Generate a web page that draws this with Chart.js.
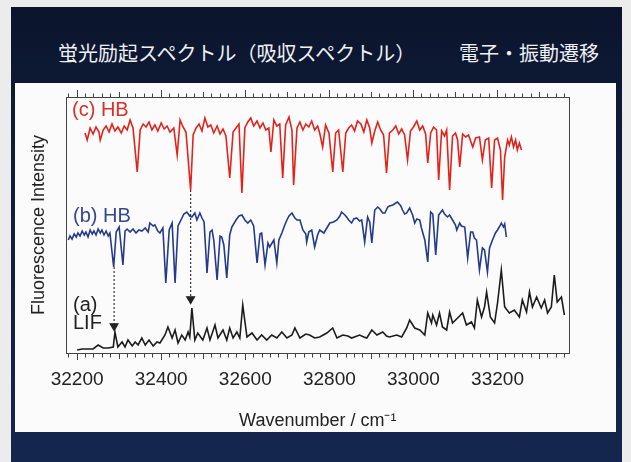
<!DOCTYPE html>
<html>
<head>
<meta charset="utf-8">
<title>蛍光励起スペクトル</title>
<script src="https://cdn.jsdelivr.net/npm/chart.js@4.4.1/dist/chart.umd.min.js"></script>
<style>
body{margin:0;width:631px;height:462px;overflow:hidden;position:relative;background:#ececec;font-family:"Liberation Sans",Arial,sans-serif}
#slide{position:absolute;left:11px;top:7px;width:611px;height:455px;background:linear-gradient(#0b142c,#0e1a36 20%,#15264e)}
#panel{position:absolute;left:15px;top:83px;width:601px;height:349px;background:#fbfbfb}
.ttl{position:absolute;top:39px;color:#eef0f4;font-size:20px;line-height:28px;font-family:"Noto Sans CJK JP",sans-serif;white-space:nowrap}
canvas{position:absolute;left:0;top:0}
.lbl{position:absolute;font-size:20px;line-height:20px;white-space:nowrap}
</style>
</head>
<body>
<div id="slide"></div>
<div id="panel"></div>
<div class="ttl" style="left:58px">蛍光励起スペクトル（吸収スペクトル）</div>
<div class="ttl" style="left:459px">電子・振動遷移</div>
<canvas id="chart" width="631" height="462"></canvas>
<div class="lbl" style="left:72px;top:99px;color:#d8302a">(c) HB</div>
<div class="lbl" style="left:73px;top:205px;color:#34488f">(b) HB</div>
<div class="lbl" style="left:73px;top:295px;line-height:18px;color:#222">(a)<br>LIF</div>
<script>
// tick labels on the wavenumber axis
const waveTicks = [32200, 32400, 32600, 32800, 33000, 33200];

// (c) HB spectrum (red)
const hbcWave = [32219,32224,32231,32238,32245,32252,32255,32262,32269,32276,
  32283,32290,32297,32305,32312,32319,32326,32333,32343,32350,
  32357,32364,32371,32378,32385,32392,32400,32407,32414,32421,
  32430,32438,32445,32452,32459,32470,32476,32483,32490,32497,
  32504,32511,32518,32525,32533,32540,32547,32554,32563,32571,
  32578,32585,32592,32599,32606,32613,32620,32628,32635,32642,
  32649,32656,32661,32668,32675,32682,32689,32696,32704,32711,
  32715,32723,32730,32737,32744,32751,32758,32765,32772,32777,
  32784,32791,32799,32808,32815,32822,32832,32839,32846,32853,
  32860,32867,32875,32882,32889,32896,32901,32908,32915,32922,
  32929,32936,32943,32951,32958,32965,32972,32979,32986,32993,
  33000,33008,33015,33022,33029,33034,33041,33048,33055,33060,
  33067,33074,33079,33086,33093,33100,33105,33110,33117,33124,
  33131,33141,33148,33157,33164,33171,33179,33186,33193,33200,
  33207,33212,33217,33224,33228,33233,33238,33243,33247,33252,33257];
const hbcInt = [220,213,225,219,226,221,213,223,227,221,
  229,222,226,220,227,223,233,225,181,223,
  229,226,231,223,228,222,230,224,227,221,
  225,198,233,226,221,163,218,225,229,222,
  235,226,228,220,227,219,224,217,175,221,
  225,229,160,225,231,235,227,232,225,230,
  223,225,201,233,227,229,175,228,236,223,
  168,225,231,223,229,226,232,223,227,220,
  206,228,220,181,220,223,181,220,225,228,
  222,232,229,221,233,225,210,222,231,223,
  218,180,220,223,227,219,224,218,193,222,
  226,232,223,227,219,190,220,226,223,173,
  222,217,223,163,217,220,213,186,219,216,
  218,206,215,216,193,213,215,165,213,215,
  203,153,196,213,208,216,206,213,203,210,203];

// (b) HB spectrum (blue)
const hbbWave = [32179,32183,32188,32193,32198,32202,32207,32212,32217,32221,
  32226,32231,32236,32240,32245,32250,32255,32259,32264,32269,
  32274,32278,32287,32293,32300,32309,32314,32319,32326,32333,
  32340,32347,32354,32362,32369,32373,32381,32385,32392,32397,
  32404,32411,32419,32426,32433,32440,32447,32454,32461,32468,
  32473,32480,32485,32492,32497,32502,32509,32516,32521,32525,
  32533,32540,32544,32549,32556,32563,32568,32578,32585,32592,
  32599,32606,32613,32620,32628,32635,32639,32647,32654,32658,
  32668,32675,32680,32687,32694,32699,32704,32711,32718,32723,
  32730,32737,32744,32746,32751,32758,32765,32772,32777,32787,
  32794,32801,32810,32818,32825,32829,32837,32841,32846,32853,
  32858,32865,32872,32877,32884,32891,32896,32901,32908,32915,
  32920,32927,32932,32939,32943,32951,32958,32962,32970,32974,
  32979,32984,32991,32998,33003,33008,33015,33019,33027,33034,
  33041,33046,33053,33060,33069,33074,33081,33086,33093,33100,
  33103,33110,33114,33122,33129,33136,33141,33145,33150,33157,
  33164,33169,33176,33181,33188,33195,33200,33207,33209,33214,
  33217,33221];
const hbbInt = [113,117,114,119,116,120,117,122,118,121,
  116,123,119,122,118,124,120,123,118,122,
  117,120,86,121,126,88,122,124,121,124,
  120,123,122,125,121,130,127,128,122,120,
  125,70,123,130,70,127,133,139,141,137,
  136,140,133,140,135,131,80,121,123,113,
  73,117,116,108,75,118,126,133,137,138,
  133,130,133,127,90,119,120,88,110,106,
  113,90,113,120,128,133,137,140,135,133,
  133,123,119,111,121,123,106,118,123,120,
  125,130,131,133,137,141,138,136,133,130,
  134,135,132,133,111,136,131,110,143,146,
  144,140,140,146,147,148,150,151,147,143,
  139,140,145,138,130,134,133,125,113,91,
  141,139,98,138,143,139,136,138,133,128,
  123,130,127,126,95,121,121,115,113,83,
  105,103,81,105,113,120,123,128,130,126,
  129,116];

// (a) LIF spectrum (black)
const lifWave = [32200,32212,32224,32238,32250,32262,32274,32286,32290,32297,
  32307,32314,32321,32331,32338,32345,32354,32362,32371,32381,
  32390,32397,32409,32416,32426,32433,32440,32449,32457,32464,
  32468,32473,32480,32487,32499,32509,32516,32528,32535,32547,
  32556,32563,32571,32580,32587,32594,32604,32616,32628,32639,
  32651,32663,32675,32687,32699,32711,32718,32730,32744,32753,
  32765,32777,32794,32808,32818,32832,32844,32853,32872,32882,
  32889,32901,32913,32927,32936,32943,32960,32972,32984,32991,
  33003,33015,33027,33034,33043,33046,33055,33062,33069,33079,
  33086,33093,33105,33117,33126,33138,33145,33152,33162,33169,
  33174,33183,33193,33200,33209,33217,33228,33240,33252,33259,
  33269,33276,33283,33293,33304,33312,33319,33328,33335,33342,33352,33359];
const lifInt = [3,4,4,4,8,5,5,6,21,6,
  11,6,13,7,11,8,15,8,13,7,
  11,10,18,26,15,23,10,18,13,21,
  16,45,13,20,13,25,13,28,15,23,
  13,25,15,21,15,48,16,20,13,18,
  13,18,15,21,15,18,25,15,19,18,
  15,16,20,25,15,18,17,15,18,16,
  15,23,18,21,17,16,18,16,25,33,
  25,23,18,40,30,38,28,40,26,23,
  41,30,35,40,28,31,25,53,36,46,
  61,36,30,50,83,46,40,43,36,53,
  41,61,46,56,45,53,40,46,78,51,56,38];

// dotted correspondence arrows (HB dip -> LIF band)
const arrowWave = [32288, 32470];
const arrowFrom = [86, 163];
const arrowTo = [27, 54];

function pts(xs, ys) {
  return xs.map((x, i) => ({x: x, y: ys[i]}));
}

function tickDash(outerFirst) {
  return ctx => {
    if (!ctx.tick) return [];
    const v = Math.round(ctx.tick.value);
    if (v % 200 === 0) return [];
    const len = v % 100 === 0 ? 5 : 3.5;
    return outerFirst ? [0, 7 - len, len, 40] : [len, 40];
  };
}

const spectra = [
  {data: pts(hbcWave, hbcInt), borderColor: '#e2231c'},
  {data: pts(hbbWave, hbbInt), borderColor: '#243a8c'},
  {data: pts(lifWave, lifInt), borderColor: '#1c1c1c'}
].map(d => Object.assign(d, {showLine: true, borderWidth: 1.6, pointRadius: 0, pointHoverRadius: 0, tension: 0}));

const arrows = arrowWave.map((x, i) => ({
  data: [{x: x, y: arrowFrom[i]}, {x: x, y: arrowTo[i]}],
  showLine: true,
  borderColor: '#333',
  borderWidth: 1.2,
  borderDash: [2, 2],
  pointRadius: [0, 4.5],
  pointHoverRadius: 0,
  pointStyle: 'triangle',
  rotation: 180,
  pointBackgroundColor: '#222',
  pointBorderColor: '#222'
}));

Chart.defaults.font.family = '"Liberation Sans", Arial, sans-serif';
Chart.defaults.color = '#222';

new Chart(document.getElementById('chart'), {
  type: 'scatter',
  data: {datasets: arrows.concat(spectra)},
  options: {
    responsive: false,
    animation: false,
    devicePixelRatio: 1,
    layout: {autoPadding: false, padding: {left: 0, right: 62, top: 90, bottom: 26.6}},
    plugins: {legend: {display: false}, tooltip: {enabled: false}},
    scales: {
      x: {
        type: 'linear', position: 'bottom', min: 32175, max: 33370,
        border: {color: '#444', width: 1},
        grid: {drawOnChartArea: false, tickLength: 7, tickColor: '#444', tickBorderDash: tickDash(false)},
        ticks: {
          stepSize: 20, autoSkip: false, includeBounds: false, maxRotation: 0, padding: 8,
          font: {size: 19}, color: '#222',
          callback: v => (waveTicks.includes(Math.round(v)) ? String(Math.round(v)) : '')
        },
        title: {display: true, text: 'Wavenumber / cm⁻¹', font: {size: 18}, color: '#222', padding: {top: 11, bottom: 4}}
      },
      x2: {
        type: 'linear', position: 'top', min: 32175, max: 33370,
        border: {color: '#444', width: 1},
        grid: {drawOnChartArea: false, tickLength: 7, tickColor: '#444', tickBorderDash: tickDash(true)},
        ticks: {display: false, stepSize: 20, autoSkip: false, includeBounds: false}
      },
      y: {
        position: 'left', min: 0, max: 256,
        border: {color: '#444', width: 1},
        grid: {display: false, drawTicks: false},
        ticks: {display: false},
        title: {display: true, text: 'Fluorescence Intensity', font: {size: 18}, color: '#222', padding: {top: 28, bottom: 17}}
      },
      y2: {
        position: 'right', min: 0, max: 256,
        border: {color: '#444', width: 1},
        grid: {display: false, drawTicks: false},
        ticks: {display: false}
      }
    }
  }
});
</script>
</body>
</html>
